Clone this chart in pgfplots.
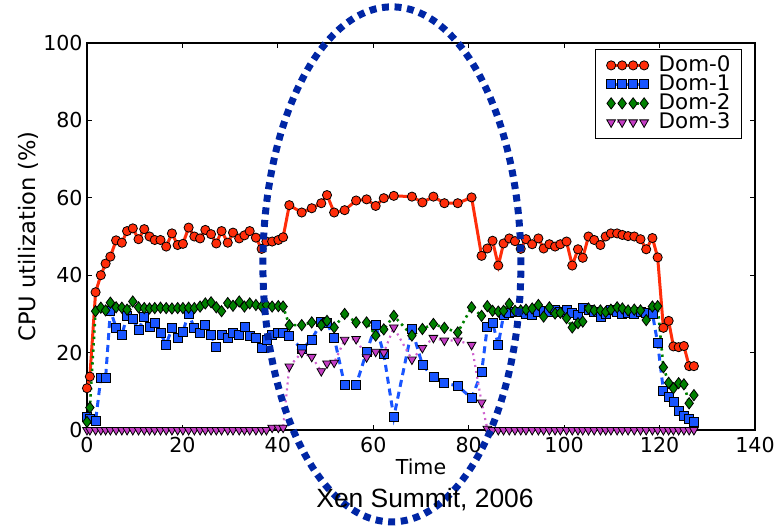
\documentclass[border=0pt]{standalone}
\usepackage{pgfplots}
\pgfplotsset{compat=1.18}
\usepackage{pgfplotstable}
\usepackage{fontspec}
\setmainfont{DejaVu Sans}
\newfontfamily\arialfont{Liberation Sans}
\definecolor{c0}{RGB}{255,45,10}
\definecolor{c1}{RGB}{25,85,255}
\definecolor{c2}{RGB}{0,128,0}
\definecolor{c3}{RGB}{195,60,195}
\definecolor{ell}{RGB}{0,38,165}
\pgfplotstableread{
x d0 d1 d2 d3
0.0 10.8 3.4 2.1 0
0.6 13.8 2.8 5.8 0
1.8 35.6 2.3 30.7 0
2.9 40.0 13.5 31.6 0
3.9 43.0 13.5 30.9 0
4.9 44.8 30.8 32.9 0
6.1 49.0 26.5 31.7 0
7.3 48.4 24.5 31.6 0
8.4 51.4 29.5 31.1 0
9.6 52.1 28.7 33.2 0
10.8 49.3 25.8 31.7 0
12.0 51.9 29.3 31.5 0
13.1 50.0 26.7 31.4 0
14.2 49.1 27.6 31.5 0
15.4 49.1 25.0 31.6 0
16.6 47.4 22.1 31.5 0
17.8 50.8 26.3 31.4 0
19.0 47.8 23.7 31.5 0
20.1 48.1 25.4 31.5 0
21.3 52.3 30.1 31.6 0
22.5 50.0 26.3 31.5 0
23.7 49.5 25.0 31.9 0
24.8 51.7 27.1 32.7 0
26.0 50.6 24.5 33.0 0
27.1 48.2 21.4 31.7 0
28.2 51.4 24.5 30.7 0
29.5 48.4 23.7 32.8 0
30.6 51.0 25.0 32.1 0
31.9 49.5 24.7 33.2 0
33.0 50.3 26.7 31.9 0
34.1 51.4 24.4 32.7 0
35.4 49.7 23.9 32.3 0
36.6 46.8 21.1 31.9 0
37.6 48.7 23.3 32.3 0
38.8 48.7 24.5 31.9 0.6
40.1 49.1 25.0 32.0 0.6
41.1 49.8 25.0 31.9 0.6
42.4 58.1 24.3 27.1 16.4
45.0 56.2 20.9 27.1 20.0
47.1 57.3 23.3 27.8 18.9
49.1 58.6 28.0 27.1 15.2
50.3 60.7 27.6 28.2 17.2
51.8 56.2 23.9 26.5 17.4
54.0 56.8 11.6 30.0 23.3
56.4 59.3 11.6 27.8 23.5
58.6 59.6 20.2 27.8 18.8
60.5 57.9 27.1 24.4 20.2
62.2 59.9 19.6 26.0 20.0
64.3 60.5 3.3 29.5 26.5
68.1 60.3 26.0 24.4 18.2
70.3 58.8 16.8 26.1 21.2
72.6 60.3 13.6 27.4 23.8
74.9 58.6 12.1 26.4 23.1
77.7 58.6 11.4 25.2 23.1
80.6 60.1 8.2 31.7 22.0
82.7 45.0 14.9 29.5 7.1
83.9 46.9 26.7 32.0 0.3
85.0 48.9 27.6 30.8 0
86.2 42.5 22.1 30.6 0
87.3 48.2 29.7 30.8 0
88.5 49.5 30.2 32.6 0
89.7 48.8 30.6 30.8 0
90.9 46.8 30.6 30.9 0
92.0 49.3 30.0 31.1 0
93.3 48.0 29.7 31.4 0
94.6 49.5 30.5 32.3 0
95.7 46.9 30.8 29.3 0
96.9 48.0 30.4 31.7 0
98.1 47.4 31.0 30.1 0
99.2 48.0 30.5 30.3 0
100.5 48.7 31.0 28.9 0
101.7 42.5 30.2 26.5 0
102.9 46.7 29.7 27.6 0
103.9 44.5 31.5 28.0 0
105.1 50.0 31.0 31.4 0
106.3 49.1 30.5 30.9 0
107.6 47.8 29.3 30.9 0
108.7 50.0 30.0 30.5 0
109.8 50.8 31.0 31.1 0
111.1 50.8 30.5 31.7 0
112.2 50.4 30.0 31.4 0
113.4 50.1 30.3 30.9 0
114.7 50.0 30.0 31.1 0
116.0 49.3 30.5 30.9 0
117.2 46.7 30.3 28.4 0
118.5 49.6 30.1 31.9 0
119.6 44.6 22.4 32.0 0
120.8 26.4 10.2 16.2 0
121.9 28.2 8.6 12.2 0
122.9 21.6 7.3 10.8 0
124.0 21.4 5.0 12.1 0
125.1 21.7 3.6 11.8 0
126.2 16.5 2.8 6.9 0
127.2 16.5 2.1 9.0 0
}\datatable
\begin{document}
\begin{tikzpicture}
\useasboundingbox (-43.5pt,-49.5pt) rectangle (345.5pt,215pt);
\begin{axis}[
  at={(0,0)}, anchor=south west,
  scale only axis, width=334pt, height=193.5pt,
  xmin=0, xmax=140, ymin=0, ymax=100,
  xtick={0,20,...,140}, ytick={0,20,...,100},
  tick align=inside, major tick length=2.5pt,
  axis line style={line width=0.6pt},
  every tick/.style={black, line width=0.5pt},
  /pgf/number format/assume math mode=true,
  tick label style={font=\fontsize{10.3pt}{12pt}\selectfont},
  xticklabel style={anchor=north, inner sep=0pt, yshift=-3.5pt},
  yticklabel style={anchor=east, inner sep=0pt, xshift=-2pt},
  xlabel={Time},
  xlabel style={at={(rel axis cs:0.5,0)}, anchor=center, yshift=-18.5pt, font=\fontsize{10.3pt}{12pt}\selectfont},
  ylabel={CPU utilization (\%)},
  ylabel style={at={(rel axis cs:0,0.5)}, anchor=center, rotate=0, yshift=29.5pt, font=\fontsize{11.3pt}{13pt}\selectfont},
  legend cell align=left,
  legend image code/.code={\draw[#1] plot coordinates {(0pt,0pt)(5.5pt,0pt)(11pt,0pt)(16.5pt,0pt)};},
  legend style={at={(1,1)}, anchor=north east, xshift=-6.5pt, yshift=-3pt,
    draw=black, line width=0.5pt, inner xsep=5.5pt, inner ysep=3.2pt,
    font=\fontsize{10.7pt}{12pt}\selectfont,
    nodes={inner sep=0pt, text height=7.6pt, text depth=1.9pt},
    /tikz/every odd column/.append style={column sep=5pt}},
]
\addplot[c0, line width=1.5pt, mark=*, mark size=2.3pt,
  mark options={solid, fill=c0, draw=black, line width=0.4pt}]
  table[x=x, y=d0] {\datatable};
\addlegendentry{Dom-0}
\addplot[c1, line width=1.5pt, dash pattern=on 3.5pt off 2.5pt, mark=square*, mark size=2.25pt,
  mark options={solid, fill=c1, draw=black, line width=0.4pt}]
  table[x=x, y=d1] {\datatable};
\addlegendentry{Dom-1}
\addplot[c2, line width=1.3pt, dash pattern=on 1.2pt off 2pt, mark=diamond*, mark size=2.8pt,
  mark options={solid, fill=c2, draw=black, line width=0.4pt}]
  table[x=x, y=d2] {\datatable};
\addlegendentry{Dom-2}
\addplot[c3!80!white, line width=1.1pt, dash pattern=on 1pt off 2pt, mark=triangle*, mark size=2.5pt,
  mark options={solid, rotate=180, fill=c3, draw=black, line width=0.4pt}]
  table[x=x, y=d3] {\datatable};
\addlegendentry{Dom-3}
\coordinate (ellc) at (axis cs:63.9,42.8);
\coordinate (capt) at (rel axis cs:0.506,-0.181);
\end{axis}
\draw[ell, line width=3.5pt, dash pattern=on 3.5pt off 2.8pt] (ellc) ellipse [x radius=64.5pt, y radius=128.75pt];
\node[font=\arialfont\fontsize{13.2pt}{15pt}\selectfont] at (capt) {Xen Summit, 2006};
\end{tikzpicture}
\end{document}
